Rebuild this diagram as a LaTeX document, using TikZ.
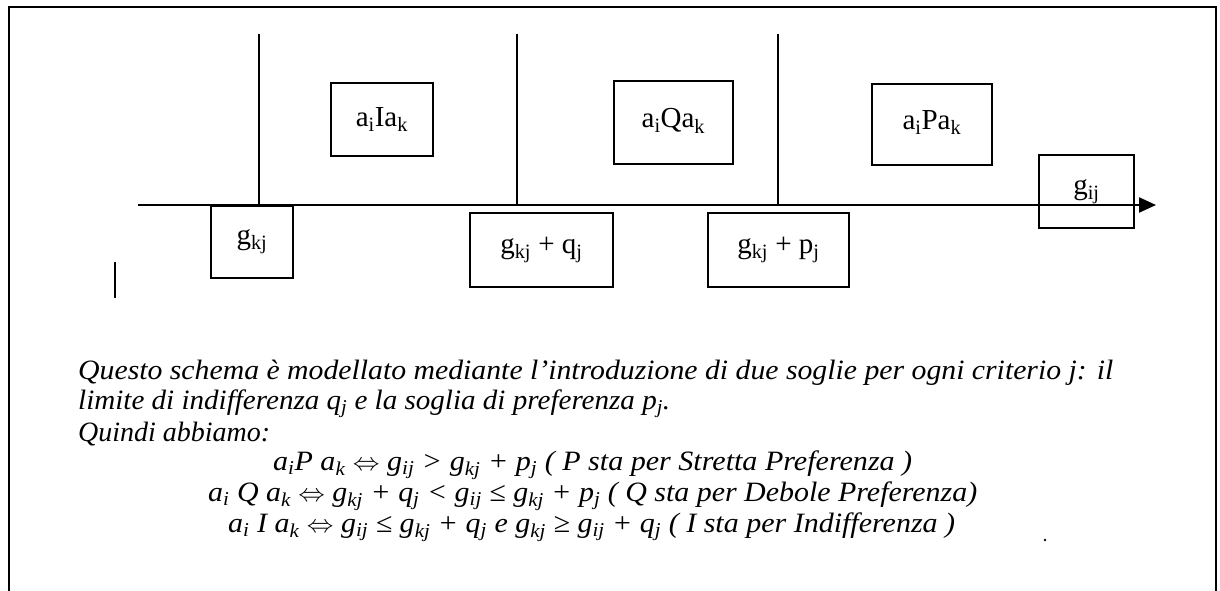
\documentclass[tikz,border=0pt]{standalone}
\usepackage{fontspec}
\setmainfont{Liberation Serif}
\usetikzlibrary{arrows.meta}
\newcommand\sbs[1]{\textsubscript{#1}}
\newcommand\fitw[2]{\resizebox{#1}{\height}{#2}}
\begin{document}
\begin{tikzpicture}[x=1pt,y=-1pt,
  lbox/.style={draw,line width=1.8pt,inner sep=0pt,anchor=north west,font=\fontsize{29}{31}\selectfont},
  txt/.style={anchor=west,inner sep=0pt,font=\fontsize{28}{30}\selectfont\itshape},
  ln/.style={line width=1.6pt}]
\useasboundingbox (0,0) rectangle (1220,591);
% frame
\coordinate (f1) at (9,591);
\coordinate (f2) at (9,7);
\coordinate (f3) at (1216,7);
\coordinate (f4) at (1216,591);
\draw[line width=1.8pt] (f1) -- (f2) -- (f3) -- (f4);
% axis
\coordinate (ax0) at (138,205);
\coordinate (ax1) at (1156,205);
\draw[line width=2.2pt,-{Triangle[length=17pt,width=15pt]}] (ax0) -- (ax1);
% vertical lines
\foreach \x/\n in {259/v1,517/v2,778/v3}{
  \coordinate (\n t) at (\x,34);
  \coordinate (\n b) at (\x,205);
  \draw[ln] (\n t) -- (\n b);
}
% boxes
\node[lbox,minimum width=102pt,minimum height=73pt] (bI) at (330,82) {a\sbs{i}Ia\sbs{k}};
\node[lbox,minimum width=119pt,minimum height=83pt] (bQ) at (613,80) {\raisebox{9pt}{a\sbs{i}Qa\sbs{k}}};
\node[lbox,minimum width=120pt,minimum height=81pt] (bP) at (871,83) {\raisebox{9pt}{a\sbs{i}Pa\sbs{k}}};
\node[lbox,minimum width=95pt,minimum height=73pt] (bg) at (1038,154) {\raisebox{3pt}{g\sbs{ij}}};
\node[lbox,minimum width=82pt,minimum height=72pt] (bkj) at (210,205) {\raisebox{-3pt}{g\sbs{kj}}};
\node[lbox,minimum width=143pt,minimum height=74pt] (bq) at (469,212) {g\sbs{kj} + q\sbs{j}};
\node[lbox,minimum width=141pt,minimum height=74pt] (bp) at (707,212) {g\sbs{kj} + p\sbs{j}};
% small bar
\coordinate (sb1) at (115,262);
\coordinate (sb2) at (115,298);
\draw[line width=1.8pt] (sb1) -- (sb2);
% text
\node[txt] (t1) at (78,373) {\fitw{1035pt}{Questo schema è modellato mediante l’introduzione di due soglie per ogni criterio j: il}};
\node[txt] (t2) at (78,404) {\fitw{592pt}{limite di indifferenza q\sbs{j} e la soglia di preferenza p\sbs{j}.}};
\node[txt] (t3) at (78,434) {\fitw{192pt}{Quindi abbiamo:}};
\node[txt] (t4) at (273,465) {\fitw{639pt}{a\sbs{i}P a\sbs{k} $\Leftrightarrow$ g\sbs{ij} > g\sbs{kj} + p\sbs{j} ( P sta per Stretta Preferenza )}};
\node[txt] (t5) at (208,496) {\fitw{769pt}{a\sbs{i} Q a\sbs{k} $\Leftrightarrow$ g\sbs{kj} + q\sbs{j} < g\sbs{ij} ≤ g\sbs{kj} + p\sbs{j} ( Q sta per Debole Preferenza)}};
\node[txt] (t6) at (228,527) {\fitw{727pt}{a\sbs{i} I a\sbs{k} $\Leftrightarrow$ g\sbs{ij} ≤ g\sbs{kj} + q\sbs{j} e g\sbs{kj} ≥ g\sbs{ij} + q\sbs{j} ( I sta per Indifferenza )}};
\node[circle,fill,inner sep=1pt] (dot) at (1045,540) {};
\end{tikzpicture}
\end{document}
